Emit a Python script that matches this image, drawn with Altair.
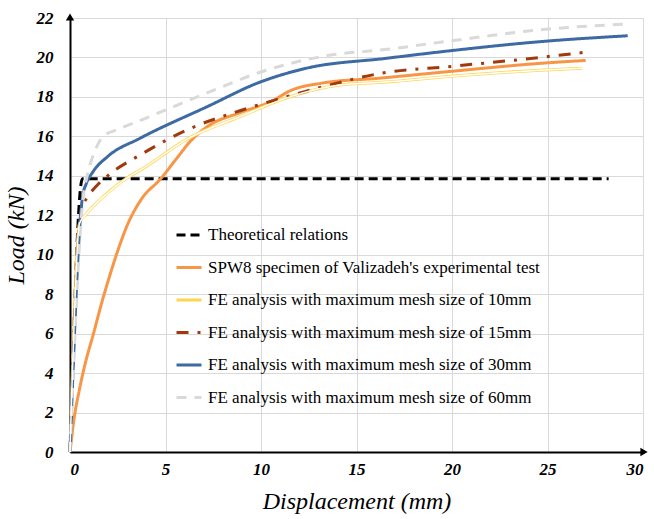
import altair as alt
import pandas as pd

series_names = [
    "Theoretical relations",
    "SPW8 specimen of Valizadeh's experimental test",
    "FE analysis with maximum mesh size of 10mm",
    "FE analysis with maximum mesh size of 15mm",
    "FE analysis with maximum mesh size of 30mm",
    "FE analysis with maximum mesh size of 60mm",
]

theory_x = [0, 0.65, 28.2]
theory_y = [0, 13.85, 13.85]

exp_x = [0, 0.2, 0.5, 0.8, 1.2, 1.7, 2.1, 2.5, 3.0, 3.8, 4.7, 5.6, 6.3, 7.2, 8.9, 10.6, 11.5, 13.2, 16.2, 20.0, 24.6, 27.0]
exp_y = [0, 1.6, 3.2, 4.5, 5.9, 7.7, 9.0, 10.2, 11.5, 12.9, 13.8, 14.9, 15.75, 16.5, 17.2, 17.8, 18.3, 18.7, 18.95, 19.3, 19.7, 19.85]

m10_x = [0, 0.5, 0.8, 1.7, 3.0, 3.7, 6.3, 8.9, 11.5, 14.1, 16.5, 20.0, 24.6, 26.8]
m10_y = [0, 11.6, 12.0, 12.9, 13.9, 14.3, 15.95, 17.0, 18.0, 18.6, 18.75, 19.05, 19.35, 19.45]

m15_x = [0, 0.6, 0.9, 1.4, 2.1, 3.66, 6.3, 8.9, 10.6, 13.2, 16.3, 20.0, 24.6, 27.3]
m15_y = [0, 12.3, 12.9, 13.5, 14.1, 15.05, 16.4, 17.3, 17.8, 18.5, 19.2, 19.55, 20.0, 20.3]

m30_x = [0, 0.65, 0.85, 1.2, 2.0, 3.66, 7.17, 9.95, 12.4, 16.5, 20.0, 24.6, 29.2]
m30_y = [0, 12.9, 13.6, 14.2, 15.0, 15.9, 17.5, 18.75, 19.46, 19.95, 20.35, 20.8, 21.1]

m60_x = [0, 0.7, 0.9, 1.2, 1.75, 2.5, 3.66, 7.17, 9.95, 13.5, 16.5, 20.0, 24.6, 29.2]
m60_y = [0, 13.0, 14.0, 15.0, 16.0, 16.35, 16.8, 18.2, 19.25, 20.1, 20.4, 20.85, 21.4, 21.7]

x_ticks = [0, 5, 10, 15, 20, 25, 30]
y_ticks = [0, 2, 4, 6, 8, 10, 12, 14, 16, 18, 20, 22]

colors = ["#000000", "#F79646", "#FFD54F", "#A0390D", "#3E6AA4", "#D9D9D9"]
dashes = [[9, 5], [1, 0], [1, 0], [12, 9, 3, 9], [1, 0], [10, 8]]
widths = [3, 3, 5, 3, 4, 4]

rows = []
for name, xs, ys in zip(
    series_names,
    [theory_x, exp_x, m10_x, m15_x, m30_x, m60_x],
    [theory_y, exp_y, m10_y, m15_y, m30_y, m60_y],
):
    for i, (a, b) in enumerate(zip(xs, ys)):
        rows.append({"series": name, "disp": a, "load": b, "order": i})
df = pd.DataFrame(rows)

W, H = 573, 434
SERIF = "Liberation Serif"

x_enc = alt.X(
    "disp:Q",
    scale=alt.Scale(domain=[0, 30], nice=False),
    axis=alt.Axis(
        values=x_ticks,
        title="Displacement (mm)",
        labelFont=SERIF,
        labelFontSize=17,
        labelFontStyle="italic",
        labelFontWeight="bold",
        labelColor="black",
        labelPadding=9,
        labelOverlap=False,
        titleFont=SERIF,
        titleFontSize=24,
        titleFontStyle="italic",
        titleFontWeight="normal",
        titleColor="black",
        titlePadding=12,
        tickSize=0,
        domainColor="black",
        domainWidth=2,
        gridColor="#D9D9D9",
        gridWidth=1,
    ),
)
y_enc = alt.Y(
    "load:Q",
    scale=alt.Scale(domain=[0, 22], nice=False),
    axis=alt.Axis(
        values=y_ticks,
        title="Load (kN)",
        labelFont=SERIF,
        labelFontSize=17,
        labelFontStyle="italic",
        labelFontWeight="bold",
        labelColor="black",
        labelPadding=17,
        labelOverlap=False,
        titleFont=SERIF,
        titleFontSize=24,
        titleFontStyle="italic",
        titleFontWeight="normal",
        titleColor="black",
        titlePadding=8,
        tickSize=0,
        domainColor="black",
        domainWidth=2,
        gridColor="#D9D9D9",
        gridWidth=1,
    ),
)

LEG_X, LEG_Y, ROW = 105, 203, 32.5

legend = alt.Legend(
    title=None,
    orient="none",
    legendX=LEG_X,
    legendY=LEG_Y,
    symbolType="stroke",
    symbolSize=625,
    labelFont=SERIF,
    labelFontSize=17,
    labelColor="black",
    labelOffset=5,
    labelLimit=600,
    rowPadding=10.5,
    padding=0,
)

base = alt.Chart(df)

lines = base.mark_line(interpolate="monotone").encode(
    x=x_enc,
    y=y_enc,
    order="order:Q",
    color=alt.Color("series:N", scale=alt.Scale(domain=series_names, range=colors), legend=legend, sort=series_names),
    strokeDash=alt.StrokeDash("series:N", scale=alt.Scale(domain=series_names, range=dashes), legend=legend, sort=series_names),
    strokeWidth=alt.StrokeWidth("series:N", scale=alt.Scale(domain=series_names, range=widths), legend=legend, sort=series_names),
)

# white core that turns the 10mm curve into a double line
inner = base.transform_filter(
    alt.datum.series == series_names[2]
).mark_line(interpolate="monotone", color="white", strokeWidth=1.5).encode(
    x=x_enc, y=y_enc, order="order:Q"
)

# same white core on the legend swatch of the 10mm entry
legend_core = alt.Chart(pd.DataFrame({"a": [0]})).mark_rule(
    color="white", strokeWidth=1.5
).encode(
    x=alt.value(LEG_X + 1),
    x2=alt.value(LEG_X + 24),
    y=alt.value(LEG_Y + 12.5 + 2 * ROW),
)

arrow_up = alt.Chart(pd.DataFrame({"a": [0]})).mark_point(
    shape="triangle-up", filled=True, color="black", size=70, opacity=1
).encode(x=alt.value(0), y=alt.value(-1))
arrow_right = alt.Chart(pd.DataFrame({"a": [0]})).mark_point(
    shape="triangle-right", filled=True, color="black", size=70, opacity=1
).encode(x=alt.value(W + 1), y=alt.value(H))

chart = alt.layer(lines, inner, arrow_up, arrow_right, legend_core).properties(
    width=W,
    height=H,
    autosize=alt.AutoSizeParams(type="none"),
    padding={"left": 70, "top": 18, "right": 11, "bottom": 67},
).configure_view(stroke=None).configure(background="white")

chart.save("out.html", embed_options={"renderer": "svg", "actions": False})
